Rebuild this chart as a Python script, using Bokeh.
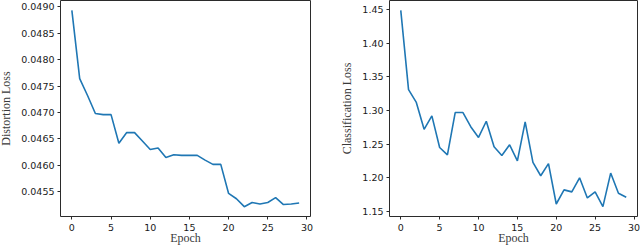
from bokeh.plotting import figure
from bokeh.layouts import row
from bokeh.models import Range1d, FixedTicker, PrintfTickFormatter
from bokeh.embed import file_html
from bokeh.resources import INLINE

epochs = list(range(30))
distortion_loss = [0.04893, 0.04764, 0.04732, 0.04698, 0.04696, 0.04696, 0.04642, 0.04662,
                   0.04662, 0.04646, 0.04630, 0.04633, 0.04615, 0.04620, 0.04619, 0.04619,
                   0.04619, 0.04610, 0.04602, 0.04602, 0.04547, 0.04537, 0.04522, 0.04530,
                   0.04527, 0.04530, 0.04539, 0.04526, 0.04527, 0.04529]
classification_loss = [1.449, 1.331, 1.312, 1.272, 1.292, 1.245, 1.234, 1.297, 1.297, 1.276,
                       1.260, 1.284, 1.246, 1.233, 1.249, 1.225, 1.283, 1.223, 1.203, 1.221,
                       1.161, 1.182, 1.179, 1.200, 1.170, 1.179, 1.157, 1.207, 1.177, 1.171]
x_ticks = [0, 5, 10, 15, 20, 25, 30]
distortion_ticks = [0.0455, 0.0460, 0.0465, 0.0470, 0.0475, 0.0480, 0.0485, 0.0490]
classification_ticks = [1.15, 1.20, 1.25, 1.30, 1.35, 1.40, 1.45]

LINE = "#1f77b4"
SPINE = "#2b2b2b"


def padded(vals, frac=0.05):
    lo, hi = min(vals), max(vals)
    d = (hi - lo) * frac
    return lo - d, hi + d


def make(yvals, yticks, fmt, ylabel, border_left, border_right, width):
    x0, x1 = padded(epochs)
    y0, y1 = padded(yvals)
    p = figure(width=width, height=247, output_backend="svg", toolbar_location=None,
               x_range=Range1d(x0, x1), y_range=Range1d(y0, y1),
               min_border_left=border_left, min_border_right=border_right,
               min_border_top=0, min_border_bottom=29)
    p.line(epochs, yvals, line_color=LINE, line_width=1.6)
    p.grid.visible = False
    p.outline_line_color = SPINE
    p.outline_line_width = 1
    p.outline_line_alpha = 1
    p.background_fill_color = "white"
    p.border_fill_color = "white"

    p.xaxis.ticker = FixedTicker(ticks=x_ticks)
    p.xaxis.formatter = PrintfTickFormatter(format="%d")
    p.yaxis.ticker = FixedTicker(ticks=yticks)
    p.yaxis.formatter = PrintfTickFormatter(format=fmt)
    for ax in (p.xaxis[0], p.yaxis[0]):
        ax.axis_line_color = None
        ax.minor_tick_line_color = None
        ax.major_tick_in = 0
        ax.major_tick_out = 3
        ax.major_tick_line_color = SPINE
        ax.major_tick_line_width = 1
        ax.major_label_text_font = "DejaVu Sans"
        ax.major_label_text_font_size = "9.5px"
        ax.major_label_text_color = "#1a1a1a"
        ax.major_label_standoff = 3
        ax.axis_label_text_font = "Liberation Serif"
        ax.axis_label_text_font_size = "12px"
        ax.axis_label_text_font_style = "normal"
        ax.axis_label_text_color = "#3a3a3a"
    p.xaxis.major_label_standoff = 4
    p.xaxis.axis_label = "Epoch"
    p.xaxis.axis_label_standoff = -3
    p.yaxis.axis_label = ylabel
    p.yaxis.axis_label_standoff = 5
    return p


p1 = make(distortion_loss, distortion_ticks, "%.4f", "Distortion Loss", 68, 10, 328)
p2 = make(classification_loss, classification_ticks, "%.2f", "Classification Loss", 69, 3, 320)

layout = row(p1, p2, styles={"margin-left": "-8px"})
open("out.html", "w").write(file_html(layout, INLINE))
